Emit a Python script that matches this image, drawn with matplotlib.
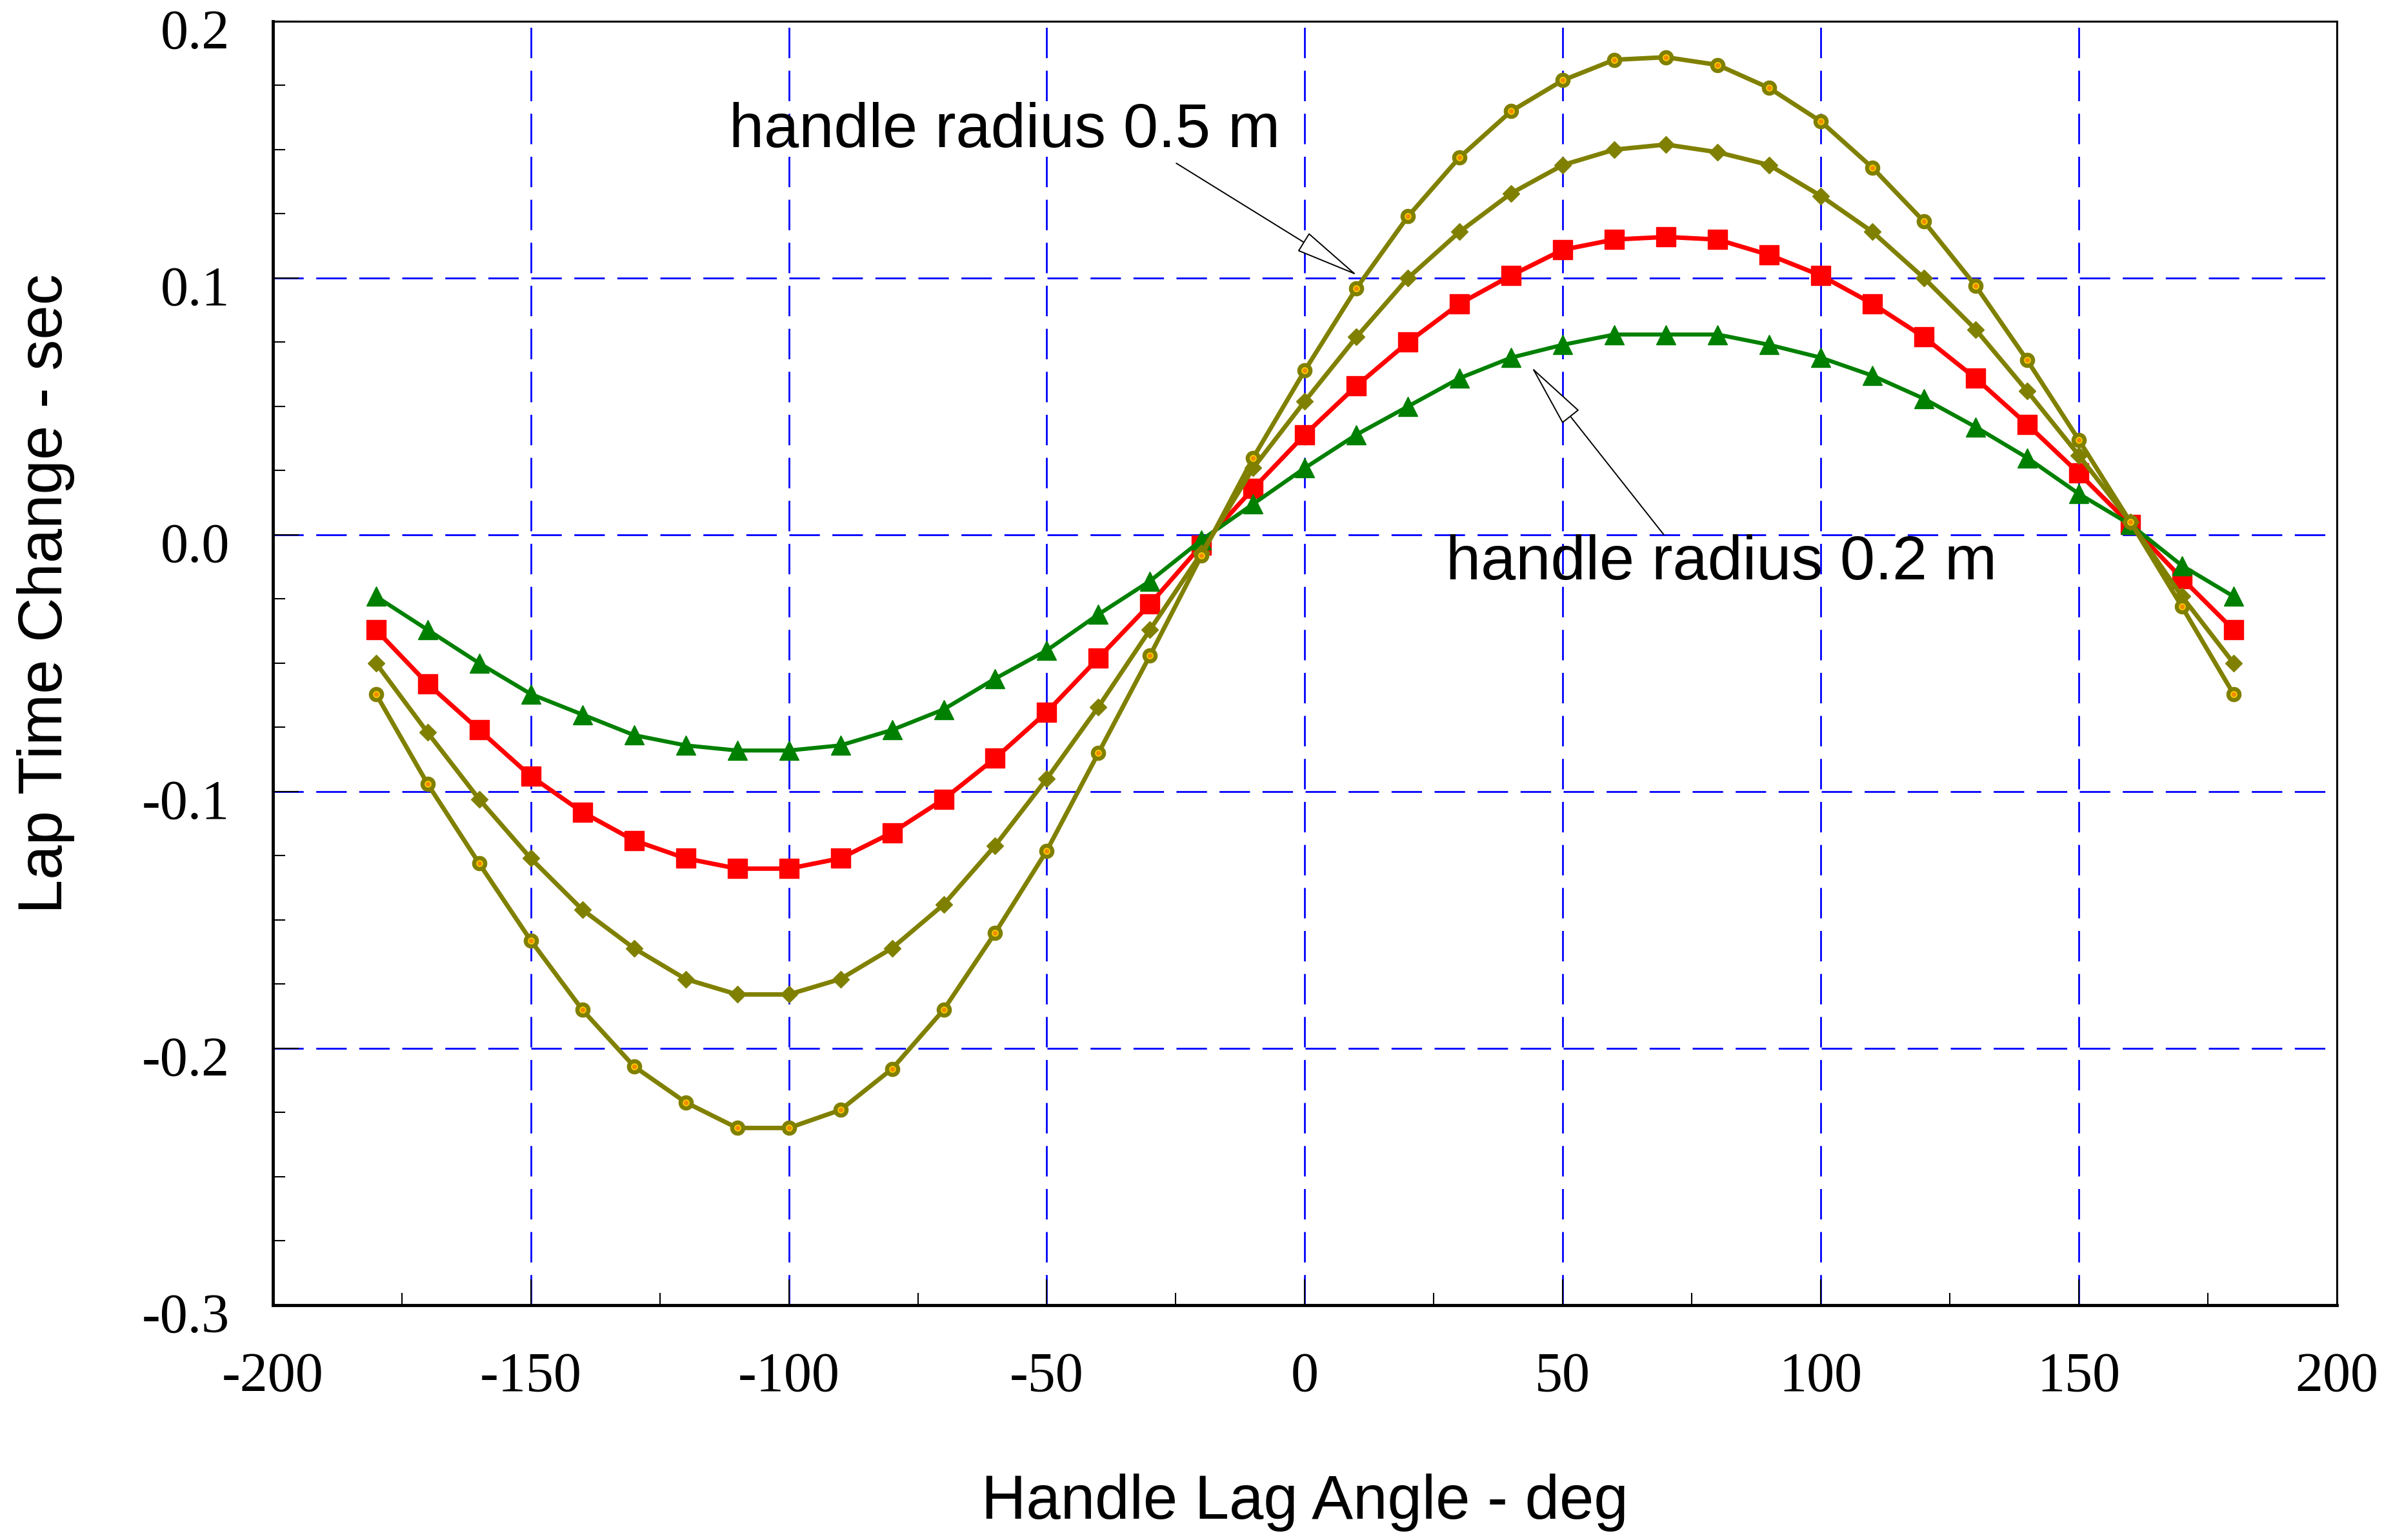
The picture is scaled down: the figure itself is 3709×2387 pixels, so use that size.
import matplotlib
matplotlib.use('Agg')
import matplotlib.pyplot as plt
from matplotlib.ticker import MultipleLocator
from matplotlib.transforms import ScaledTranslation

plt.rcParams['axes.unicode_minus'] = False

# handle lag angle, deg
angle = list(range(-180, 181, 10))

# lap time change, sec
r_02 = [-0.024, -0.037, -0.050, -0.062, -0.070, -0.078, -0.082, -0.084, -0.084, -0.082,
        -0.076, -0.068, -0.056, -0.045, -0.031, -0.018, -0.002, 0.012, 0.026, 0.039,
        0.050, 0.061, 0.069, 0.074, 0.078, 0.078, 0.078, 0.074, 0.069, 0.062,
        0.053, 0.042, 0.030, 0.016, 0.004, -0.012, -0.024]
r_03 = [-0.037, -0.058, -0.076, -0.094, -0.108, -0.119, -0.126, -0.130, -0.130, -0.126,
        -0.116, -0.103, -0.087, -0.069, -0.048, -0.027, -0.004, 0.018, 0.039, 0.058,
        0.075, 0.090, 0.101, 0.111, 0.115, 0.116, 0.115, 0.109, 0.101, 0.090,
        0.077, 0.061, 0.043, 0.024, 0.004, -0.017, -0.037]
r_04 = [-0.050, -0.077, -0.103, -0.126, -0.146, -0.161, -0.173, -0.179, -0.179, -0.173,
        -0.161, -0.144, -0.121, -0.095, -0.067, -0.037, -0.007, 0.026, 0.052, 0.077,
        0.100, 0.118, 0.133, 0.144, 0.150, 0.152, 0.149, 0.144, 0.132, 0.118,
        0.100, 0.080, 0.056, 0.031, 0.005, -0.024, -0.050]
r_05 = [-0.062, -0.097, -0.128, -0.158, -0.185, -0.207, -0.221, -0.231, -0.231, -0.224,
        -0.208, -0.185, -0.155, -0.123, -0.085, -0.047, -0.008, 0.030, 0.064, 0.096,
        0.124, 0.147, 0.165, 0.177, 0.185, 0.186, 0.183, 0.174, 0.161, 0.143,
        0.122, 0.097, 0.068, 0.037, 0.005, -0.028, -0.062]

olive = '#808000'

fig = plt.figure(figsize=(37.09, 23.87), dpi=100)
ax = fig.add_axes([0.114, 0.1525, 0.8625, 0.8337])

ax.plot(angle, r_03, color='#ff0000', lw=5, marker='s', ms=21, mec='#ff0000', zorder=3)
ax.plot(angle, r_02, color='#008000', lw=4.5, marker='^', ms=22, mec='#008000', zorder=4)
ax.plot(angle, r_04, color=olive, lw=5, marker='D', ms=13, mec=olive, zorder=5)
ax.plot(angle, r_05, color=olive, lw=5, marker='o', ms=16, mfc=olive, mec=olive, zorder=6)
ax.plot(angle, r_05, ls='none', marker='o', ms=6.5, mfc='#f08c00', mec='#ffd000', mew=1.2, zorder=7)

ax.set_xlim(-200, 200)
ax.set_ylim(-0.3, 0.2)
ax.xaxis.set_major_locator(MultipleLocator(50))
ax.xaxis.set_minor_locator(MultipleLocator(25))
ax.yaxis.set_major_locator(MultipleLocator(0.1))
ax.yaxis.set_minor_locator(MultipleLocator(0.025))
ax.yaxis.set_major_formatter(matplotlib.ticker.FormatStrFormatter('%.1f'))

ax.grid(True, which='major', color='#0000ff', lw=2, linestyle=(0, (17, 7)))

ax.tick_params(which='both', direction='in', top=False, right=False, color='black')
ax.tick_params(which='major', length=29, width=1.5)
ax.tick_params(which='minor', length=14, width=1.5)
ax.tick_params(axis='x', which='major', pad=52)
ax.tick_params(axis='y', which='major', pad=48)

for lbl in ax.get_xticklabels() + ax.get_yticklabels():
    lbl.set_fontfamily('Liberation Serif')
    lbl.set_fontsize(62)
for lbl in ax.get_yticklabels():
    lbl.set_transform(lbl.get_transform() + ScaledTranslation(0, -8 / 72, fig.dpi_scale_trans))

for side in ['left', 'bottom']:
    ax.spines[side].set_linewidth(3.5)
for side in ['top', 'right']:
    ax.spines[side].set_linewidth(2.2)

ax.set_xlabel('Handle Lag Angle - deg', fontfamily='Liberation Sans', fontsize=69)
ax.set_ylabel('Lap Time Change - sec', fontfamily='Liberation Sans', fontsize=69)
ax.xaxis.set_label_coords(0.5, -0.154)
ax.yaxis.set_label_coords(-0.110, 0.554)
ax.xaxis.label.set_va('center')
ax.yaxis.label.set_va('center')

arrow = dict(arrowstyle='-|>,head_length=3.3,head_width=0.55', mutation_scale=20,
             fc='white', ec='black', lw=1.4, shrinkA=0, shrinkB=0)
ax.annotate('', xy=(10.2, 0.101), xytext=(-24.9, 0.1447), arrowprops=arrow, zorder=8)
ax.annotate('', xy=(43.9, 0.0654), xytext=(69.6, 0.0), arrowprops=arrow, zorder=8)
ax.text(-111.6, 0.151, 'handle radius 0.5 m', fontfamily='Liberation Sans', fontsize=70,
        ha='left', va='baseline', zorder=9)
ax.text(27.4, -0.0174, 'handle radius 0.2 m', fontfamily='Liberation Sans', fontsize=70,
        ha='left', va='baseline', zorder=9)

fig.savefig('out.png', dpi=100)
